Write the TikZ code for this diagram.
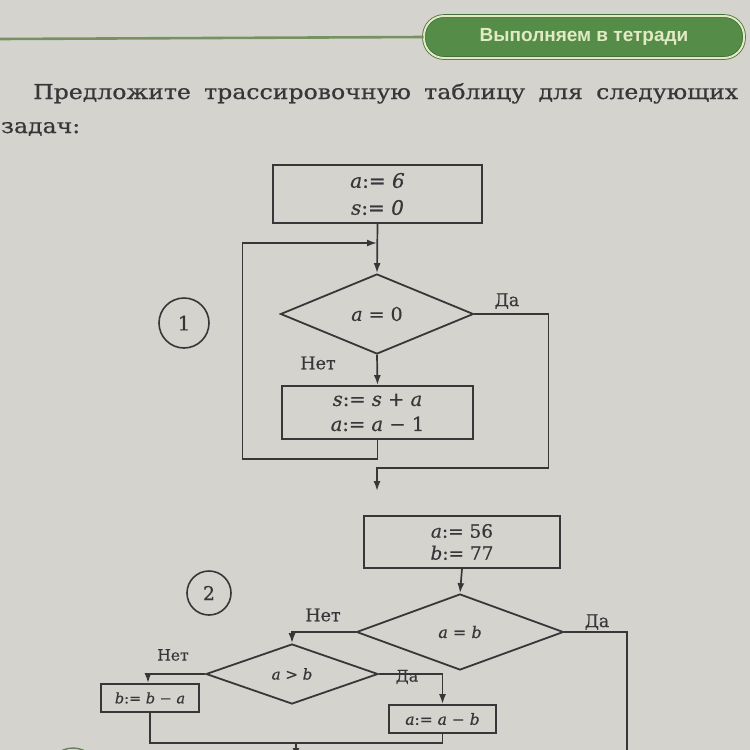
\documentclass[tikz,border=0pt]{standalone}
\usepackage{fontspec}
\setmainfont{DejaVu Serif}[FakeBold=0.5]
\newfontfamily\bodyfont[FakeStretch=1.15,FakeBold=0.6]{DejaVu Serif}
\newfontfamily\tabfont{Liberation Sans}
\usetikzlibrary{shapes.geometric,arrows.meta,calc}
\definecolor{page}{RGB}{213,211,206}
\definecolor{ink}{RGB}{55,55,57}
\definecolor{tabgreen}{RGB}{84,140,72}
\definecolor{tablight}{RGB}{226,234,196}
\definecolor{rule}{RGB}{118,146,98}
\tikzset{
  every node/.style={text=ink},
  conn/.style={draw=ink, line width=1.7pt},
  arr/.style={conn, -{Latex[length=10pt,width=7pt]}},
  blockbox/.style={draw=ink, line width=1.8pt, rectangle, inner sep=0pt, align=center},
  dia/.style={draw=ink, line width=1.8pt, diamond, aspect=1, inner sep=0pt},
  numcirc/.style={draw=ink, line width=1.6pt, circle, inner sep=0pt},
  lbl/.style={inner sep=0pt, font=\fontsize{17.5}{18}\selectfont},
  bigtxt/.style={font=\fontsize{20}{27}\selectfont},
  midtxt/.style={font=\fontsize{18.5}{22}\selectfont},
  smalltxt/.style={font=\fontsize{15.5}{18}\selectfont},
}
\begin{document}
\begin{tikzpicture}[x=1pt,y=-1pt]
\fill[page] (0,0) rectangle (750,750);
\useasboundingbox (0,0) rectangle (750,750);
\begin{scope}
\clip (0,0) rectangle (750,750);

% header
\node[rectangle, rounded corners=20pt, minimum width=320pt, minimum height=42pt,
      fill=tabgreen, draw=tabgreen!80!black, double=tablight, double distance=2pt,
      line width=0.8pt, text=tablight, inner sep=0pt] (tab) at (584,37)
      {\tabfont\bfseries\fontsize{19}{20}\selectfont Выполняем в тетради};
\coordinate (ruleL) at (0,39);
\draw[rule, line width=2.6pt] (ruleL) -- (tab.west);

% body text
\node[anchor=base west, inner sep=0pt] (t1) at (33,99)
  {\bodyfont\fontsize{20.5}{24}\selectfont\makebox[705pt][s]{Предложите трассировочную таблицу для следующих}};
\node[anchor=base west, inner sep=0pt] (t2) at (1,133)
  {\bodyfont\fontsize{20.5}{24}\selectfont задач:};

% ---------- diagram 1 ----------
\node[numcirc, minimum size=50pt] (c1) at (184,323) {\fontsize{20}{20}\selectfont 1};
\node[blockbox, bigtxt, minimum width=209pt, minimum height=58pt] (b1) at (377.5,194)
  {\textit{a}:= \textit{6}\\\textit{s}:= \textit{0}};
\node[dia, minimum width=193pt, minimum height=80pt] (d1) at (377,314)
  {\fontsize{19}{20}\selectfont\textit{a} = 0};
\node[blockbox, font=\fontsize{19.5}{25}\selectfont, minimum width=191pt, minimum height=53pt] (b2) at (377.5,412.5)
  {\textit{s}:= \textit{s} + \textit{a}\\\textit{a}:= \textit{a} − 1};
\coordinate (m1) at (377,243);
\coordinate (o1) at (377,491);

\draw[arr] (b1.south) -- (d1.north);
\draw[arr] (d1.south) -- (b2.north);
\draw[arr] (b2.south) -- ++(0,19) -- ++(-135,0) |- (m1);
\draw[arr] (d1.east) -- ++(74,0) |- ($(o1)+(0,-23)$) -- (o1);
\node[lbl] (y1) at (507,301) {Да};
\node[lbl] (n1) at (318,363) {Нет};

% ---------- diagram 2 ----------
\node[numcirc, minimum size=44pt] (c2) at (209,593) {\fontsize{19}{20}\selectfont 2};
\node[blockbox, midtxt, minimum width=196pt, minimum height=52pt] (b3) at (462,542)
  {\textit{a}:= 56\\\textit{b}:= 77};
\node[dia, minimum width=207pt, minimum height=76pt] (d2) at (460,632)
  {\fontsize{16}{18}\selectfont\textit{a} = \textit{b}};
\node[dia, minimum width=172pt, minimum height=60pt] (d3) at (292,674)
  {\fontsize{15}{16}\selectfont\textit{a} > \textit{b}};
\node[blockbox, font=\fontsize{14.5}{16}\selectfont, minimum width=98pt, minimum height=28pt] (b4) at (150,698)
  {\textit{b}:= \textit{b} − \textit{a}};
\node[blockbox, smalltxt, minimum width=107pt, minimum height=28pt] (b5) at (442.5,719)
  {\textit{a}:= \textit{a} − \textit{b}};
\coordinate (o2) at (627,760);
\coordinate (jn) at (296,743);
\coordinate (o3) at (296,758);

\draw[arr] (b3.south) -- (d2.north);
\draw[arr] (d2.west) -| (d3.north);
\draw[conn] (d2.east) -| (o2);
\draw[arr] (d3.west) -| ($(b4.north)+(-2,0)$);
\draw[arr] (d3.east) -| (b5.north);
\draw[conn] (b4.south) |- (jn) -| (b5.south);
\draw[arr] (jn) -- (o3);
\node[lbl] (n2) at (323,615) {Нет};
\node[lbl] (y2) at (597,622) {Да};
\node[lbl, font=\fontsize{15.5}{16}\selectfont] (n3) at (173,655) {Нет};
\node[lbl, font=\fontsize{16}{16}\selectfont] (y3) at (407,677) {Да};

% partial circle at bottom left
\draw[rule!80!ink, line width=1.4pt] (73,773) circle (25);
\end{scope}
\end{tikzpicture}
\end{document}
